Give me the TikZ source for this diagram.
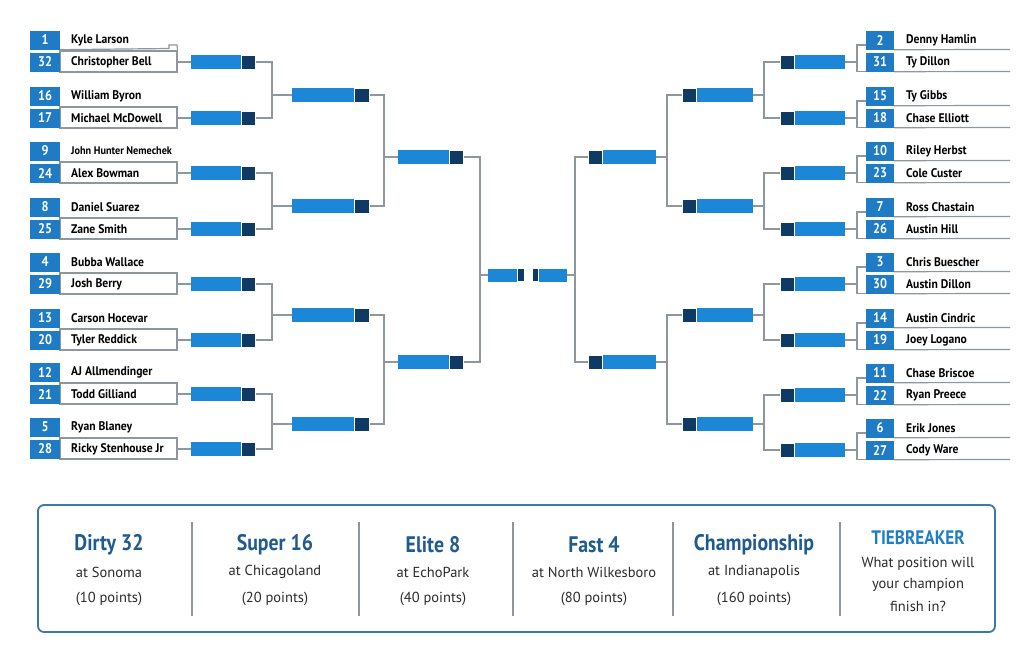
\documentclass[tikz,border=0pt]{standalone}
\usepackage{fontspec}
\setmainfont{PT Sans}
\newfontfamily\condfont{PT Sans}[FakeStretch=0.88]
\newfontfamily\namefont{PT Sans}[FakeStretch=0.93]
\usetikzlibrary{calc}
\definecolor{numblue}{HTML}{1E7BC4}
\definecolor{barblue}{HTML}{1C87D6}
\definecolor{bardark}{HTML}{0E3A63}
\definecolor{linegray}{HTML}{8E969E}
\definecolor{titleblue}{HTML}{1F5B8E}
\definecolor{tieblue}{HTML}{1F7DC2}
\definecolor{panelblue}{HTML}{3B78AC}
\definecolor{textgray}{HTML}{2B2B2B}
\tikzset{
  num/.style={fill=numblue, text=white, inner sep=0pt, minimum height=19pt,
    font=\condfont\bfseries\fontsize{14}{15}\selectfont},
  drv/.style={anchor=west, inner sep=0pt, text=black,
    font=\namefont\bfseries\fontsize{12.5}{14}\selectfont},
  seedrect/.style={draw=linegray, line width=1.1pt, inner sep=0pt,
    minimum width=117pt, minimum height=21pt},
  lbar/.style={fill=barblue, inner sep=0pt, minimum height=14pt},
  dbar/.style={fill=bardark, draw=white, line width=0.6pt, inner sep=0pt, minimum height=14pt},
  conn/.style={draw=linegray, line width=1.2pt},
  ttl/.style={text=titleblue, font=\condfont\bfseries\fontsize{22.5}{25}\selectfont, inner sep=0pt},
  sub/.style={text=textgray, font=\fontsize{14.5}{17}\selectfont, inner sep=0pt},
}
\begin{document}
\begin{tikzpicture}[x=1pt,y=-1pt]
\useasboundingbox (0,0) rectangle (1024,667);
\fill[white] (0,0) rectangle (1024,667);

% ---------- left seeds ----------
\foreach \i/\y/\na/\ta/\nb/\tb in {
  1/62/1/Kyle Larson/32/Christopher Bell,
  2/118/16/William Byron/17/Michael McDowell,
  3/173/9/{\fontsize{11}{12}\selectfont John Hunter Nemechek}/24/Alex Bowman,
  4/229/8/Daniel Suarez/25/Zane Smith,
  5/284/4/Bubba Wallace/29/Josh Berry,
  6/340/13/Carson Hocevar/20/Tyler Reddick,
  7/394/12/AJ Allmendinger/21/Todd Gilliand,
  8/449/5/Ryan Blaney/28/Ricky Stenhouse Jr}{
  \node[seedrect] (lsr\i) at (118.5,\y-0.5) {};
  \node[num, minimum width=30pt] (lna\i) at (45,\y-22) {\na};
  \node[num, minimum width=30pt] (lnb\i) at (45,\y) {\nb};
  \node[drv] (lta\i) at (71,\y-22) {\ta};
  \node[drv] (ltb\i) at (71,\y) {\tb};
  \node[lbar, minimum width=50pt] (l1\i) at (216,\y) {};
  \node[dbar, minimum width=14pt, anchor=west] (l1d\i) at (l1\i.east) {};
  \draw[conn] (lsr\i.east |- l1\i.west) -- (l1\i.west);
}
\draw[conn] (lna1.south east) -- (169,48.5) -- (169,45) -- (177,45) -- (lsr1.north east);

% ---------- right seeds ----------
\foreach \i/\y/\na/\ta/\nb/\tb in {
  1/62/2/Denny Hamlin/31/Ty Dillon,
  2/118/15/Ty Gibbs/18/Chase Elliott,
  3/173/10/Riley Herbst/23/Cole Custer,
  4/229/7/Ross Chastain/26/Austin Hill,
  5/284/3/Chris Buescher/30/Austin Dillon,
  6/340/14/Austin Cindric/19/Joey Logano,
  7/395/11/Chase Briscoe/22/Ryan Preece,
  8/450/6/Erik Jones/27/Cody Ware}{
  \coordinate (rea\i) at (1010,\y-12.5);
  \coordinate (reb\i) at (1010,\y+9.5);
  \coordinate (rbj\i) at (857,\y);
  \node[num, minimum width=28pt] (rna\i) at (880,\y-22) {\na};
  \node[num, minimum width=28pt] (rnb\i) at (880,\y) {\nb};
  \node[drv] (rta\i) at (906,\y-22) {\ta};
  \node[drv] (rtb\i) at (906,\y) {\tb};
  \draw[conn] (rna\i.south east) -- (rea\i);
  \draw[conn] (rnb\i.south east) -- (reb\i);
  \draw[conn] ([yshift=-5pt]rna\i.west) -| (rbj\i) |- (rnb\i.south west);
  \node[lbar, minimum width=50pt] (r1\i) at (820,\y) {};
  \node[dbar, minimum width=14pt, anchor=east] (r1d\i) at (r1\i.west) {};
  \draw[conn] (r1\i.east) -- (rbj\i);
}

% ---------- round 2 ----------
\foreach \j/\y/\a/\b in {1/95/1/2, 2/206/3/4, 3/315/5/6, 4/424/7/8}{
  \node[lbar, minimum width=62pt] (l2\j) at (323,\y) {};
  \node[dbar, minimum width=15pt, anchor=west] (l2d\j) at (l2\j.east) {};
  \coordinate (lj2\j) at (272,\y);
  \draw[conn] (l1d\a.east) -| (lj2\j) |- (l1d\b.east);
  \draw[conn] (lj2\j) -- (l2\j.west);
  \node[lbar, minimum width=56pt] (r2\j) at (725,\y) {};
  \node[dbar, minimum width=14pt, anchor=east] (r2d\j) at (r2\j.west) {};
  \coordinate (rj2\j) at (764,\y);
  \draw[conn] (r1d\a.west) -| (rj2\j) |- (r1d\b.west);
  \draw[conn] (rj2\j) -- (r2\j.east);
}

% ---------- round 3 ----------
\foreach \k/\y/\a/\b in {1/157/1/2, 2/362/3/4}{
  \node[lbar, minimum width=51pt] (l3\k) at (423.5,\y) {};
  \node[dbar, minimum width=14pt, anchor=west] (l3d\k) at (l3\k.east) {};
  \coordinate (lj3\k) at (384,\y);
  \draw[conn] (l2d\a.east) -| (lj3\k) |- (l2d\b.east);
  \draw[conn] (lj3\k) -- (l3\k.west);
  \node[lbar, minimum width=53pt] (r3\k) at (629.5,\y) {};
  \node[dbar, minimum width=14pt, anchor=east] (r3d\k) at (r3\k.west) {};
  \coordinate (rj3\k) at (667,\y);
  \draw[conn] (r2d\a.west) -| (rj3\k) |- (r2d\b.west);
  \draw[conn] (rj3\k) -- (r3\k.east);
}

% ---------- final ----------
\node[lbar, minimum width=29pt, minimum height=13pt] (fl) at (502.5,275) {};
\node[dbar, minimum width=7pt, minimum height=13pt, anchor=west] (fld) at (fl.east) {};
\node[lbar, minimum width=28pt, minimum height=13pt] (fr) at (553,275) {};
\node[dbar, minimum width=6pt, minimum height=13pt, anchor=east] (frd) at (fr.west) {};
\coordinate (fjl) at (480,275);
\coordinate (fjr) at (575,275);
\draw[conn] (l3d1.east) -| (fjl) |- (l3d2.east);
\draw[conn] (fjl) -- (fl.west);
\draw[conn] (r3d1.west) -| (fjr) |- (r3d2.west);
\draw[conn] (fjr) -- (fr.east);

% ---------- bottom panel ----------
\node[draw=panelblue, line width=1.8pt, rounded corners=6pt, inner sep=0pt,
  minimum width=957pt, minimum height=127pt] (panel) at (516.5,568.5) {};
\foreach \x in {192,359,513,673,840}{
  \draw[draw=linegray, line width=1.1pt] (\x,522) -- (\x,616);
}
\foreach \n/\x/\t/\s/\p in {
  a/109/Dirty 32/at Sonoma/(10 points),
  b/275/Super 16/at Chicagoland/(20 points),
  c/433/Elite 8/at EchoPark/(40 points),
  d/594/Fast 4/at North Wilkesboro/(80 points),
  e/754/Championship/at Indianapolis/(160 points)}{
  \node[ttl] (t\n) at (\x,545) {\t};
  \node[sub] (s\n) at (\x,572) {\s};
  \node[sub] (p\n) at (\x,599) {\p};
}
\node[ttl, text=tieblue, font=\condfont\bfseries\fontsize{19.5}{21}\selectfont] (tf) at (918,538) {TIEBREAKER};
\node[sub] (tf1) at (918,564) {What position will};
\node[sub] (tf2) at (918,585) {your champion};
\node[sub] (tf3) at (918,606) {finish in?};
\end{tikzpicture}
\end{document}
